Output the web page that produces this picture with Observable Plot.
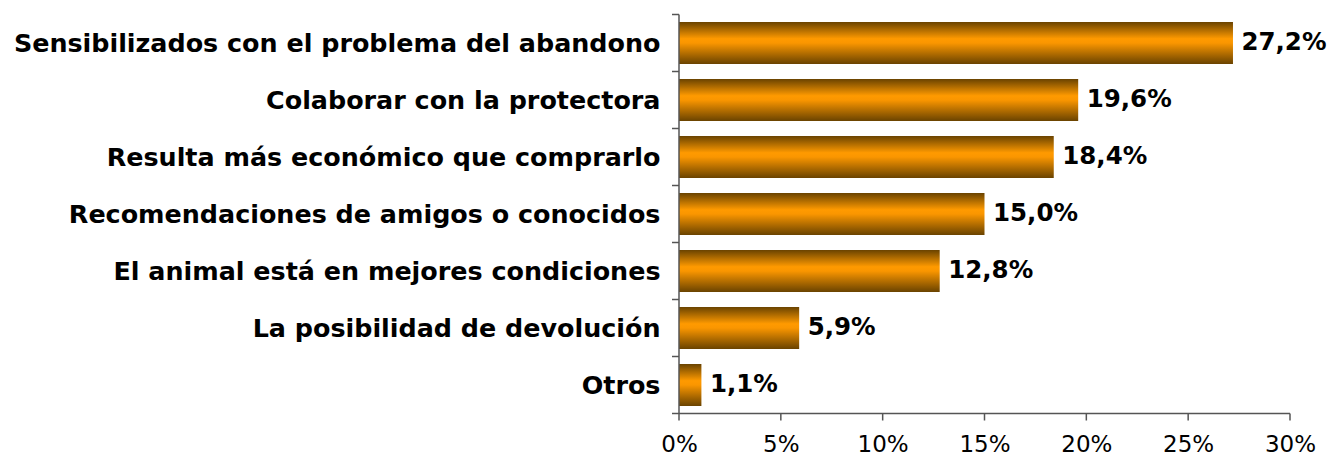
<!DOCTYPE html>
<html>
<head>
<meta charset="utf-8">
<script src="https://cdn.jsdelivr.net/npm/d3@7"></script>
<script src="https://cdn.jsdelivr.net/npm/@observablehq/plot@0.6"></script>
<style>
  html, body { margin: 0; padding: 0; background: #fff; }
  #chart svg { display: block; }
</style>
</head>
<body>
<div id="chart"></div>
<script>
const categories = [
  "Sensibilizados con el problema del abandono",
  "Colaborar con la protectora",
  "Resulta más económico que comprarlo",
  "Recomendaciones de amigos o conocidos",
  "El animal está en mejores condiciones",
  "La posibilidad de devolución",
  "Otros"
];
const values = [27.2, 19.6, 18.4, 15.0, 12.8, 5.9, 1.1];
const valueLabels = ["27,2%", "19,6%", "18,4%", "15,0%", "12,8%", "5,9%", "1,1%"];
const xTicks = [0, 5, 10, 15, 20, 25, 30];

const data = categories.map((c, i) => ({category: c, value: values[i], label: valueLabels[i]}));

const axisColor = "#555";

// Axis lines + ticks at band boundaries, computed from the scales
function frameAxes(index, scales) {
  const x = scales.x, y = scales.y;
  const step = y.step();
  const dom = y.domain();
  const y0 = y(dom[0]) - (step - y.bandwidth()) / 2;
  const x0 = x(0);
  const x1 = x(xTicks[xTicks.length - 1]);
  const g = d3.create("svg:g").attr("stroke", axisColor).attr("stroke-width", 1.5).attr("fill", "none");
  const yEnd = y0 + step * dom.length;
  g.append("line").attr("x1", x0).attr("x2", x0).attr("y1", y0).attr("y2", yEnd);
  g.append("line").attr("x1", x0).attr("x2", x1).attr("y1", yEnd).attr("y2", yEnd);
  for (let i = 0; i <= dom.length; i++) {
    const yy = y0 + i * step;
    g.append("line").attr("x1", x0 - 7).attr("x2", x0).attr("y1", yy).attr("y2", yy);
  }
  for (const t of xTicks) {
    g.append("line").attr("x1", x(t)).attr("x2", x(t)).attr("y1", yEnd).attr("y2", yEnd + 7);
  }
  return g.node();
}

const plot = Plot.plot({
  width: 1332,
  height: 458,
  marginLeft: 679,
  marginRight: 42,
  marginTop: 14,
  marginBottom: 44,
  style: {fontFamily: "'DejaVu Sans', Verdana, sans-serif", background: "#fff", color: "#000"},
  x: {domain: [0, 30], ticks: xTicks, label: null},
  y: {domain: categories, paddingInner: 0.26, paddingOuter: 0.13, label: null},
  marks: [
    Plot.barX(data, {x: "value", y: "category", fill: "url(#barGrad)"}),
    Plot.text(data, {
      x: "value", y: "category", text: "label", textAnchor: "start", dx: 8, dy: -1,
      fontWeight: "bold", fontSize: 24.5, fill: "#000"
    }),
    Plot.axisY({tickSize: 0, tickPadding: 19, fontSize: 25.4, fontWeight: "bold", fill: "#000"}),
    Plot.axisX({ticks: xTicks, tickSize: 0, tickPadding: 21, tickFormat: d => d + "%", fontSize: 23, fill: "#000"}),
    frameAxes
  ]
});

const svg = d3.select(plot);
const defs = svg.insert("defs", ":first-child");
const grad = defs.append("linearGradient").attr("id", "barGrad")
  .attr("x1", 0).attr("y1", 0).attr("x2", 0).attr("y2", 1);
[[0, "#6a4300"], [0.4, "#ff9a00"], [0.5, "#fa9600"], [1, "#6a4300"]].forEach(([o, c]) =>
  grad.append("stop").attr("offset", o).attr("stop-color", c));

document.getElementById("chart").appendChild(plot);
</script>
</body>
</html>
